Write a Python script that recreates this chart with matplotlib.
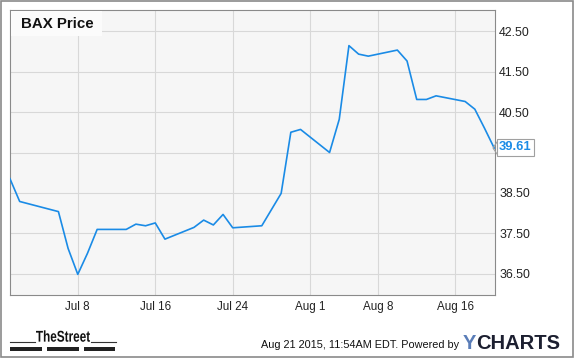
import matplotlib
matplotlib.use("Agg")
import matplotlib.pyplot as plt
from matplotlib.patches import Rectangle, PathPatch
from matplotlib.lines import Line2D
from matplotlib.textpath import TextPath
from matplotlib.font_manager import FontProperties
from matplotlib.transforms import Affine2D
import datetime as dt

# ---------------- data ----------------
dates = ["2015-07-01", "2015-07-02", "2015-07-06", "2015-07-07", "2015-07-08",
         "2015-07-09", "2015-07-10", "2015-07-13", "2015-07-14", "2015-07-15",
         "2015-07-16", "2015-07-17", "2015-07-20", "2015-07-21", "2015-07-22",
         "2015-07-23", "2015-07-24", "2015-07-27", "2015-07-28", "2015-07-29",
         "2015-07-30", "2015-07-31", "2015-08-03", "2015-08-04", "2015-08-05",
         "2015-08-06", "2015-08-07", "2015-08-10", "2015-08-11", "2015-08-12",
         "2015-08-13", "2015-08-14", "2015-08-17", "2015-08-18", "2015-08-19",
         "2015-08-20"]
prices = [38.85, 38.29, 38.04, 37.13, 36.49,
          37.01, 37.60, 37.60, 37.73, 37.69,
          37.76, 37.36, 37.65, 37.83, 37.71,
          37.97, 37.64, 37.69, 38.09, 38.49,
          40.00, 40.07, 39.50, 40.32, 42.14,
          41.93, 41.88, 42.03, 41.76, 40.81,
          40.81, 40.90, 40.76, 40.57, 40.10,
          39.61]
y_ticks = [36.5, 37.5, 38.5, 39.5, 40.5, 41.5, 42.5]
y_tick_labels = ["36.50", "37.50", "38.50", "", "40.50", "41.50", "42.50"]
x_tick_dates = ["2015-07-08", "2015-07-16", "2015-07-24", "2015-08-01", "2015-08-08", "2015-08-16"]
x_tick_labels = ["Jul 8", "Jul 16", "Jul 24", "Aug 1", "Aug 8", "Aug 16"]
series_name = "BAX Price"
last_label = "39.61"
footer_text = "Aug 21 2015, 11:54AM EDT. Powered by"

# ---------------- layout ----------------
W, H = 575, 358
fig = plt.figure(figsize=(W / 100, H / 100), dpi=100)
fig.patch.set_facecolor("white")

def fx(x):
    return x / W

def fy(y):
    return 1 - y / H

L, R, T, B = 10, 495, 10, 295
ax = fig.add_axes([fx(L), fy(B), fx(R) - fx(L), fy(T) - fy(B)])
ax.set_facecolor("#f6f6f6")

xd = [dt.datetime.strptime(d, "%Y-%m-%d") for d in dates]
ax.plot(xd, prices, color="#1a8be6", lw=1.2, solid_joinstyle="round", zorder=3)

ax.set_xlim(dt.datetime(2015, 7, 1), dt.datetime(2015, 8, 20, 2))
ax.set_ylim(35.98, 43.02)

ax.set_yticks(y_ticks)
ax.set_yticklabels(y_tick_labels)
ax.yaxis.tick_right()
xt = [dt.datetime.strptime(d, "%Y-%m-%d") for d in x_tick_dates]
ax.set_xticks(xt)
ax.set_xticklabels(x_tick_labels)
ax.tick_params(length=0, colors="#222222")
ax.tick_params(axis="y", labelsize=8.9, pad=3)
ax.tick_params(axis="x", labelsize=8.4, pad=4)
for lab in ax.get_xticklabels() + ax.get_yticklabels():
    lab.set_fontfamily("Liberation Sans")
ax.grid(True, color="#d8d8d8", lw=0.8, zorder=1)
for s in ax.spines.values():
    s.set_color("#8a8a8a")
    s.set_linewidth(0.8)

# series name box
fig.patches.append(Rectangle((fx(10.5), fy(36)), fx(102) - fx(10.5), fy(10.5) - fy(36),
                             transform=fig.transFigure, facecolor="#fbfbfb",
                             edgecolor="none", zorder=5))
fig.text(fx(21), fy(24), series_name, fontsize=10.8, fontweight="bold",
         family="Liberation Sans", color="#111111", va="center", ha="left", zorder=6)

# last value label
fig.text(fx(499), fy(147.5), last_label, fontsize=9.4, fontweight="bold",
         family="Liberation Sans", color="#1a8be6", va="center", ha="left",
         bbox=dict(boxstyle="square,pad=0.18", fc="white", ec="#a0a0a0", lw=0.8), zorder=7)
fig.lines.append(Line2D([fx(497), fx(493), fx(497)], [fy(142), fy(148), fy(154)],
                        transform=fig.transFigure, color="#a0a0a0", lw=0.8, zorder=8))

# outer border
fig.patches.append(Rectangle((fx(1), fy(357)), fx(573) - fx(1), fy(1) - fy(357),
                             transform=fig.transFigure, facecolor="none",
                             edgecolor="#8a8a8a", lw=1.2, zorder=10))

# TheStreet logo (condensed bold text drawn as a path)
fp = FontProperties(family="Liberation Sans", weight="bold")
tp = TextPath((0, 0), "TheStreet", size=16, prop=fp)
ext = tp.get_extents()
target_w, target_h = 54.0, 11.5
sx = target_w / ext.width
sy = target_h / ext.height
tr = (Affine2D().translate(-ext.x0, -ext.y0).scale(sx, sy)
      .scale(1.0 / W, 1.0 / H).translate(fx(36), fy(341.8)) + fig.transFigure)
fig.patches.append(PathPatch(tp, transform=tr, facecolor="#111111", edgecolor="none", lw=0))
for x0, x1 in [(10, 42), (47, 79), (84, 115.5)]:
    fig.patches.append(Rectangle((fx(x0), fy(351)), fx(x1) - fx(x0), fy(347.3) - fy(351),
                                 transform=fig.transFigure, facecolor="#222222",
                                 edgecolor="none"))
fig.lines.append(Line2D([fx(10), fx(35)], [fy(342), fy(342)], transform=fig.transFigure,
                        color="#333333", lw=0.8))
fig.lines.append(Line2D([fx(91), fx(115.5)], [fy(342), fy(342)], transform=fig.transFigure,
                        color="#333333", lw=0.8))

# footer
fig.text(fx(261), fy(345), footer_text, fontsize=7.85, family="Liberation Sans",
         color="#111111", ha="left", va="center")
fig.text(fx(463), fy(349), "Y", fontsize=14.5, fontweight="bold", family="Liberation Sans",
         color="#5a7db8", ha="left", va="baseline")
fig.text(fx(476.5), fy(349), "CHARTS", fontsize=14.5, fontweight="bold", family="Liberation Sans",
         color="#1c1f30", ha="left", va="baseline")

fig.savefig("out.png", dpi=100)
